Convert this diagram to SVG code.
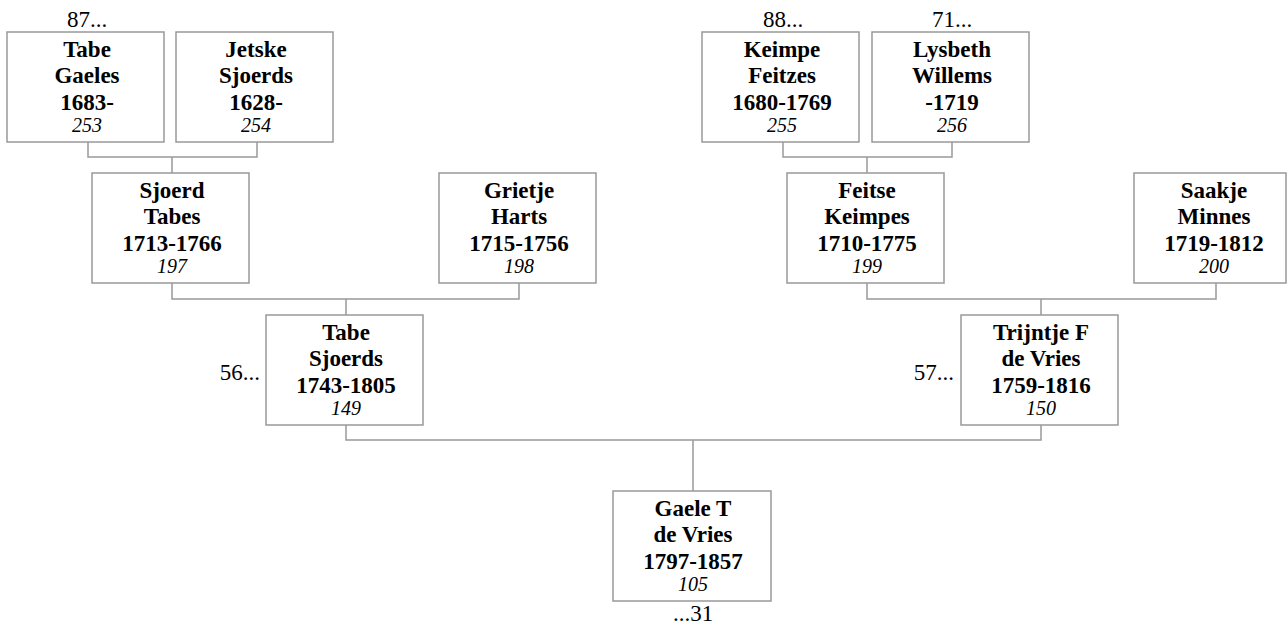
<svg xmlns="http://www.w3.org/2000/svg" width="1287" height="626" viewBox="0 0 1287 626">
<style>
.box{fill:#fff;stroke:#999;stroke-width:1.5}
.con{fill:none;stroke:#999;stroke-width:1.5}
.n{font-size:23px;font-weight:bold;text-anchor:middle}
.i{font-size:20px;font-style:italic;text-anchor:middle}
.l{font-size:23px}
</style>
<rect width="1287" height="626" fill="#fff"/>
<g id="connectors">
<path class="con" d="M88,142V157H257V142M172,157V173"/>
<path class="con" d="M783,142V157H952V142M867,157V173"/>
<path class="con" d="M172,283V299H519V283M346,299V315"/>
<path class="con" d="M867,283V299H1216V283M1041,299V315"/>
<path class="con" d="M346,425V440H1041V425M693,440V491"/>
</g>
<g font-family="Liberation Serif, Tinos, Times New Roman, serif" fill="#000">
<g id="n253">
<rect class="box" x="7" y="32" width="157" height="110"/>
<text class="n" x="87" y="57">Tabe</text>
<text class="n" x="87" y="83">Gaeles</text>
<text class="n" x="87" y="110">1683-</text>
<text class="i" x="87" y="132">253</text>
<text class="l" x="87" y="27" text-anchor="middle">87...</text>
</g>
<g id="n254">
<rect class="box" x="176" y="32" width="157" height="110"/>
<text class="n" x="256" y="57">Jetske</text>
<text class="n" x="256" y="83">Sjoerds</text>
<text class="n" x="256" y="110">1628-</text>
<text class="i" x="256" y="132">254</text>
</g>
<g id="n255">
<rect class="box" x="702" y="32" width="157" height="110"/>
<text class="n" x="782" y="57">Keimpe</text>
<text class="n" x="782" y="83">Feitzes</text>
<text class="n" x="782" y="110">1680-1769</text>
<text class="i" x="782" y="132">255</text>
<text class="l" x="783" y="27" text-anchor="middle">88...</text>
</g>
<g id="n256">
<rect class="box" x="872" y="32" width="157" height="110"/>
<text class="n" x="952" y="57">Lysbeth</text>
<text class="n" x="952" y="83">Willems</text>
<text class="n" x="952" y="110">-1719</text>
<text class="i" x="952" y="132">256</text>
<text class="l" x="952" y="27" text-anchor="middle">71...</text>
</g>
<g id="n197">
<rect class="box" x="92" y="173" width="157" height="110"/>
<text class="n" x="172" y="198">Sjoerd</text>
<text class="n" x="172" y="224">Tabes</text>
<text class="n" x="172" y="251">1713-1766</text>
<text class="i" x="172" y="273">197</text>
</g>
<g id="n198">
<rect class="box" x="439" y="173" width="157" height="110"/>
<text class="n" x="519" y="198">Grietje</text>
<text class="n" x="519" y="224">Harts</text>
<text class="n" x="519" y="251">1715-1756</text>
<text class="i" x="519" y="273">198</text>
</g>
<g id="n199">
<rect class="box" x="787" y="173" width="157" height="110"/>
<text class="n" x="867" y="198">Feitse</text>
<text class="n" x="867" y="224">Keimpes</text>
<text class="n" x="867" y="251">1710-1775</text>
<text class="i" x="867" y="273">199</text>
</g>
<g id="n200">
<rect class="box" x="1134" y="173" width="152" height="110"/>
<text class="n" x="1214" y="198">Saakje</text>
<text class="n" x="1214" y="224">Minnes</text>
<text class="n" x="1214" y="251">1719-1812</text>
<text class="i" x="1214" y="273">200</text>
</g>
<g id="n149">
<rect class="box" x="266" y="315" width="157" height="110"/>
<text class="n" x="346" y="340">Tabe</text>
<text class="n" x="346" y="366">Sjoerds</text>
<text class="n" x="346" y="393">1743-1805</text>
<text class="i" x="346" y="415">149</text>
<text class="l" x="260" y="380" text-anchor="end">56...</text>
</g>
<g id="n150">
<rect class="box" x="961" y="315" width="157" height="110"/>
<text class="n" x="1041" y="340">Trijntje F</text>
<text class="n" x="1041" y="366">de Vries</text>
<text class="n" x="1041" y="393">1759-1816</text>
<text class="i" x="1041" y="415">150</text>
<text class="l" x="954" y="380" text-anchor="end">57...</text>
</g>
<g id="n105">
<rect class="box" x="613" y="491" width="158" height="110"/>
<text class="n" x="693" y="516">Gaele T</text>
<text class="n" x="693" y="542">de Vries</text>
<text class="n" x="693" y="569">1797-1857</text>
<text class="i" x="693" y="591">105</text>
<text class="l" x="693" y="621" text-anchor="middle">...31</text>
</g>
</g>
</svg>
